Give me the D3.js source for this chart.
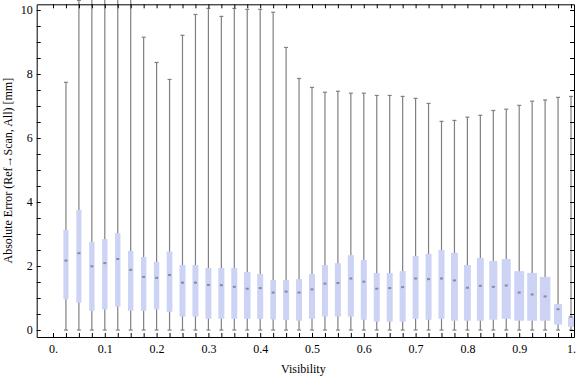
<!DOCTYPE html>
<html>
<head>
<meta charset="utf-8">
<script src="https://cdn.jsdelivr.net/npm/d3@7"></script>
<style>
  body { margin: 0; background: #fff; }
  text { font-family: "Liberation Serif", "DejaVu Serif", serif; fill: #000; }
</style>
</head>
<body>
<script>
// visibility bins (box centres)
var visibility = [0.025, 0.05, 0.075, 0.1, 0.125, 0.15, 0.175, 0.2, 0.225, 0.25,
  0.275, 0.3, 0.325, 0.35, 0.375, 0.4, 0.425, 0.45, 0.475, 0.5,
  0.525, 0.55, 0.575, 0.6, 0.625, 0.65, 0.675, 0.7, 0.725, 0.75,
  0.775, 0.8, 0.825, 0.85, 0.875, 0.9, 0.925, 0.95, 0.975, 1.0];

var minVal = [0, 0, 0, 0, 0, 0, 0, 0, 0, 0,
  0, 0, 0, 0, 0, 0, 0, 0, 0, 0,
  0, 0, 0, 0, 0, 0, 0, 0, 0, 0,
  0, 0, 0, 0, 0, 0, 0, 0, 0, 0];

var q1 = [0.96, 0.85, 0.6, 0.64, 0.73, 0.6, 0.6, 0.64, 0.57, 0.42,
  0.42, 0.35, 0.35, 0.35, 0.35, 0.35, 0.33, 0.31, 0.29, 0.35,
  0.42, 0.42, 0.42, 0.32, 0.26, 0.26, 0.26, 0.35, 0.32, 0.35,
  0.29, 0.29, 0.29, 0.32, 0.35, 0.29, 0.29, 0.29, 0.17, 0.1];

var median = [2.17, 2.4, 1.99, 2.09, 2.22, 1.88, 1.66, 1.63, 1.72, 1.48,
  1.48, 1.41, 1.4, 1.35, 1.29, 1.31, 1.17, 1.2, 1.17, 1.27,
  1.45, 1.47, 1.61, 1.51, 1.29, 1.31, 1.34, 1.61, 1.59, 1.61,
  1.55, 1.32, 1.38, 1.35, 1.39, 1.17, 1.11, 1.05, 0.65, 0.41];

var q3 = [3.13, 3.75, 2.75, 2.84, 3.03, 2.47, 2.28, 2.13, 2.45, 2.03,
  2.03, 1.94, 1.94, 1.94, 1.81, 1.75, 1.56, 1.56, 1.59, 1.75,
  2.03, 2.09, 2.34, 2.19, 1.78, 1.78, 1.84, 2.31, 2.38, 2.5,
  2.41, 2.03, 2.25, 2.16, 2.22, 1.84, 1.78, 1.66, 0.81, 0.42];

var maxVal = [7.74, 10.3, 12, 12, 12, 12, 9.15, 8.36, 7.83, 9.21,
  9.86, 10.05, 9.8, 10.05, 10.02, 10.02, 9.93, 8.83, 7.86, 7.58,
  7.43, 7.46, 7.4, 7.4, 7.33, 7.33, 7.3, 7.24, 7.08, 6.52,
  6.55, 6.65, 6.71, 6.86, 6.9, 7.02, 7.15, 7.19, 7.27, 7.3];

// relative box width per bin
var weight = [0.85, 0.85, 0.9, 0.9, 0.9, 0.9, 0.9, 0.9, 0.95, 1,
  1, 1, 1, 1, 1.1, 1, 0.95, 1, 1, 1,
  1, 1, 1, 1, 1, 1, 1, 1, 1, 1,
  1.15, 1.15, 1.15, 1.35, 1.5, 1.65, 1.65, 1.75, 1.35, 1];

var xTicks = d3.range(0, 41).map(function(i) { return i / 40; });
var yTicks = d3.range(0, 21).map(function(i) { return i / 2; });

var W = 576, H = 377;
// frame edges (note: "top" is reserved on window)
var fL = 36.7, fR = 574, fT = 4.3, fB = 337;

var svg = d3.select("body").append("svg")
  .attr("width", W).attr("height", H);

var x = d3.scaleLinear().domain([0, 1]).range([53, 571]);
var y = d3.scaleLinear().domain([0, 10]).range([330, 10]);

var boxes = visibility.map(function(v, i) {
  return {x: v, lo: minVal[i], q1: q1[i], med: median[i], q3: q3[i], hi: maxVal[i], w: weight[i]};
});

var g = svg.append("g");

// whiskers
g.selectAll(".whisker").data(boxes).enter().append("line")
  .attr("class", "whisker")
  .attr("x1", function(d) { return x(d.x); })
  .attr("x2", function(d) { return x(d.x); })
  .attr("y1", function(d) { return y(d.lo); })
  .attr("y2", function(d) { return y(d.hi); })
  .attr("stroke", "#808080").attr("stroke-width", 1.2);

["lo", "hi"].forEach(function(k) {
  g.selectAll(".cap-" + k).data(boxes).enter().append("line")
    .attr("class", "cap-" + k)
    .attr("x1", function(d) { return x(d.x) - 2; })
    .attr("x2", function(d) { return x(d.x) + 2; })
    .attr("y1", function(d) { return y(d[k]); })
    .attr("y2", function(d) { return y(d[k]); })
    .attr("stroke", "#808080").attr("stroke-width", 1.2);
});

// boxes
g.selectAll(".box").data(boxes).enter().append("rect")
  .attr("class", "box")
  .attr("x", function(d) { return x(d.x) - 3 * d.w; })
  .attr("width", function(d) { return 6 * d.w; })
  .attr("y", function(d) { return y(d.q3); })
  .attr("height", function(d) { return y(d.q1) - y(d.q3); })
  .attr("fill", "#ccd3f5");

// medians
g.selectAll(".med").data(boxes).enter().append("rect")
  .attr("class", "med")
  .attr("x", function(d) { return x(d.x) - 1.5; })
  .attr("width", 3)
  .attr("y", function(d) { return y(d.med) - 1; })
  .attr("height", 2)
  .attr("fill", "#8a8a9a");

// frame axes (ticks inward)
var xs = d3.scaleLinear().domain([x.invert(fL), x.invert(fR)]).range([fL, fR]);
var ys = d3.scaleLinear().domain([y.invert(fB), y.invert(fT)]).range([fB, fT]);

function xLabel(d) {
  var k = Math.round(d * 40);
  if (k % 4 !== 0) return "";
  if (k === 0) return "0.";
  if (k === 40) return "1.";
  return d3.format(".1f")(d);
}
function yLabel(d) {
  return (Math.round(d * 2) % 4 === 0) ? String(Math.round(d)) : "";
}

var axB = svg.append("g").attr("transform", "translate(0," + fB + ")")
  .call(d3.axisBottom(xs).tickValues(xTicks).tickFormat(xLabel)
    .tickSizeInner(-4).tickSizeOuter(0).tickPadding(7));
var axT = svg.append("g").attr("transform", "translate(0," + fT + ")")
  .call(d3.axisTop(xs).tickValues(xTicks).tickFormat("")
    .tickSizeInner(-4).tickSizeOuter(0));
var axL = svg.append("g").attr("transform", "translate(" + fL + ",0)")
  .call(d3.axisLeft(ys).tickValues(yTicks).tickFormat(yLabel)
    .tickSizeInner(-4).tickSizeOuter(0).tickPadding(4));
var axR = svg.append("g").attr("transform", "translate(" + fR + ",0)")
  .call(d3.axisRight(ys).tickValues(yTicks).tickFormat("")
    .tickSizeInner(-4).tickSizeOuter(0));

[axB, axT, axL, axR].forEach(function(a) {
  a.selectAll("path, line").attr("stroke", "#000").attr("stroke-width", 1);
  a.selectAll("text").style("font-family", "'Liberation Serif', serif")
    .style("font-size", "12px").attr("fill", "#000");
});

svg.append("text")
  .attr("x", (fL + fR) / 2 - 2).attr("y", 373)
  .attr("text-anchor", "middle").style("font-size", "12px")
  .text("Visibility");

svg.append("text")
  .attr("transform", "translate(12," + ((fT + fB) / 2) + ") rotate(-90)")
  .attr("text-anchor", "middle").style("font-size", "12px")
  .text("Absolute Error (Ref\u2192Scan, All) [mm]");
</script>
</body>
</html>
